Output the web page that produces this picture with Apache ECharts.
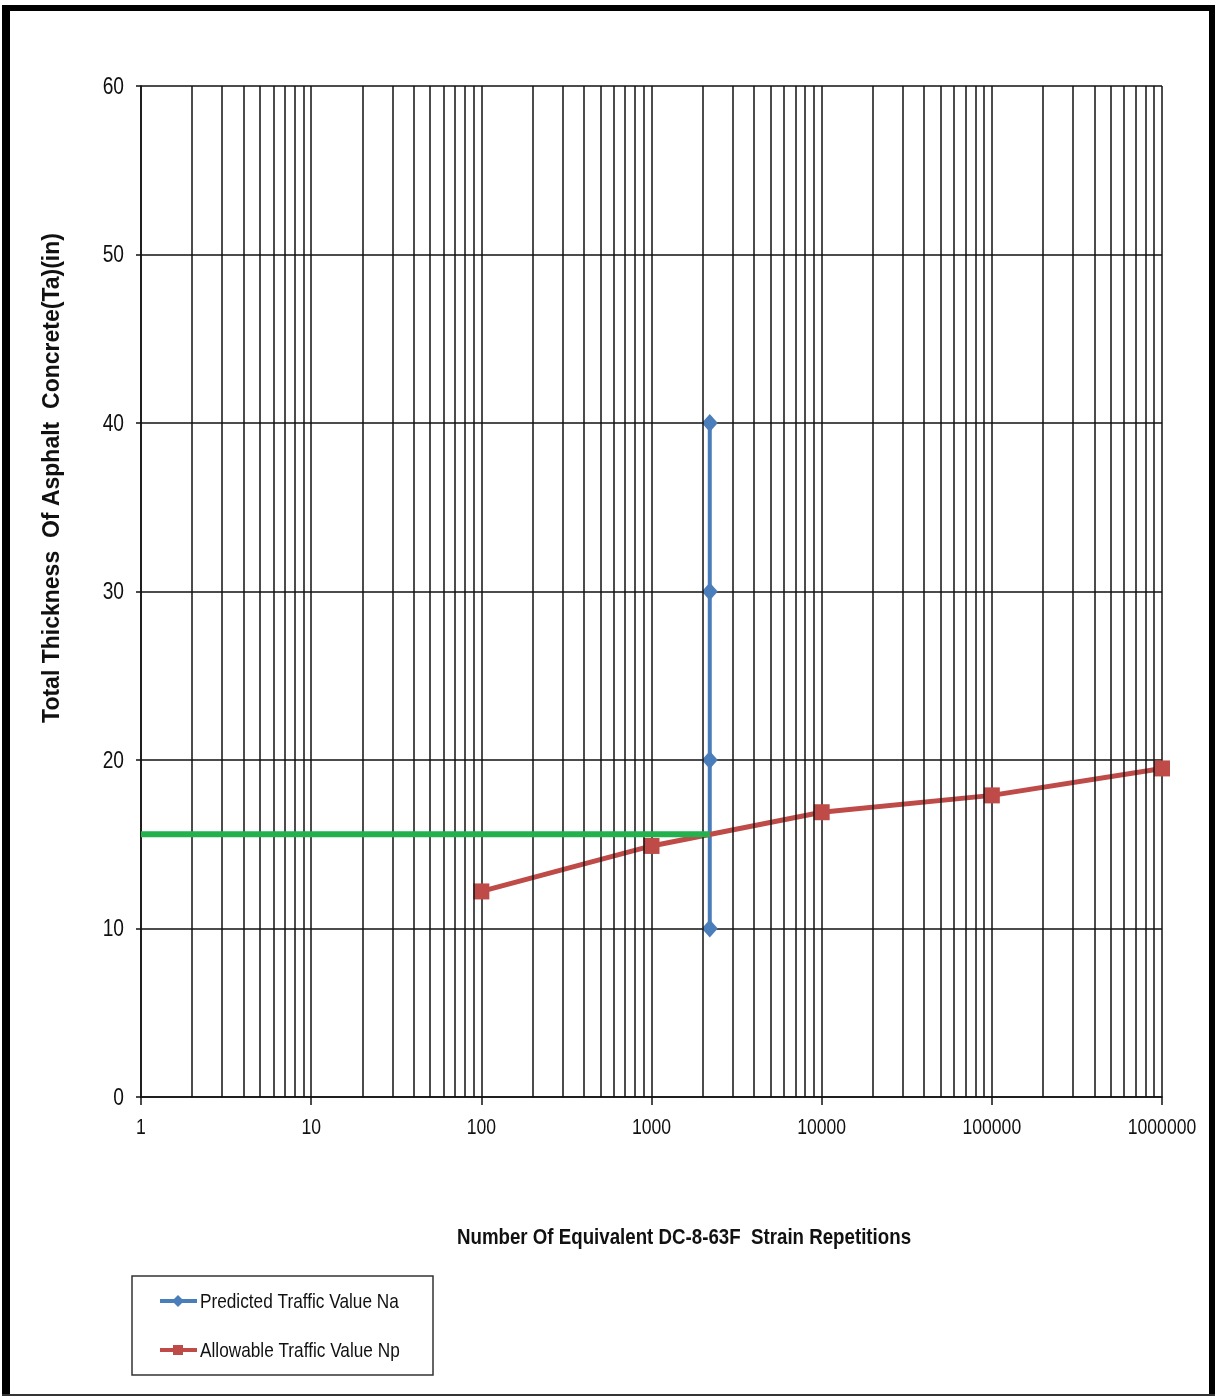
<!DOCTYPE html>
<html>
<head>
<meta charset="utf-8">
<script src="https://cdn.jsdelivr.net/npm/echarts@6/dist/echarts.min.js"></script>
<style>
  html, body { margin: 0; padding: 0; background: #fff; }
  #chart { width: 1215px; height: 1397px; }
</style>
</head>
<body>
<div id="chart"></div>
<script>
// Predicted traffic (Na): vertical line of points at one repetition count
const predictedX = [2200, 2200, 2200, 2200];
const predictedY = [40, 30, 20, 10];

// Allowable traffic (Np) versus thickness
const allowableX = [100, 1000, 10000, 100000, 1000000];
const allowableY = [12.2, 14.9, 16.9, 17.9, 19.5];

// Design thickness read across to the predicted traffic
const designX = [1, 2200];
const designY = [15.6, 15.6];

// Axis ranges and tick labels
const xMin = 1, xMax = 1000000;
const yMin = 0, yMax = 60, yStep = 10;
const xTicks = [1, 10, 100, 1000, 10000, 100000, 1000000];
const xTickLabels = ['1', '10', '100', '1000', '10000', '100000', '1000000'];
const yTicks = [0, 10, 20, 30, 40, 50, 60];
const yTickLabels = ['0', '10', '20', '30', '40', '50', '60'];

const xTitle = 'Number Of Equivalent DC-8-63F  Strain Repetitions';
const yTitle = 'Total Thickness  Of Asphalt  Concrete(Ta)(in)';
const seriesNames = ['Predicted Traffic Value Na', 'Allowable Traffic Value Np'];
const colors = { na: '#4a7ebb', np: '#be4b48', design: '#22b14c', grid: '#111' };

// Log-paper grid: one vertical line at every 2..9 x 10^k inside the range
const logGrid = [];
for (let p = 1; p < xMax; p *= 10) {
  for (let m = 2; m <= 9; m++) logGrid.push(m * p);
}

const pair = (xs, ys) => xs.map((x, i) => [x, ys[i]]);
const sans = "'Liberation Sans', Arial, sans-serif";
// condensed look: regular sans squeezed horizontally
const narrowScale = 0.8;

const chart = echarts.init(document.getElementById('chart'), null, { renderer: 'canvas' });

chart.setOption({
  animation: false,
  backgroundColor: '#fff',
  grid: { left: 141, top: 86, width: 1021, height: 1011, containLabel: false },
  xAxis: {
    type: 'log',
    logBase: 10,
    min: xMin,
    max: xMax,
    axisLine: { show: true, lineStyle: { color: colors.grid, width: 1.5 } },
    axisTick: { show: true, length: 8, lineStyle: { color: colors.grid, width: 1.5 } },
    splitLine: { show: true, lineStyle: { color: colors.grid, width: 1.5 } },
    axisLabel: { show: false }
  },
  yAxis: {
    type: 'value',
    min: yMin,
    max: yMax,
    interval: yStep,
    axisLine: { show: true, lineStyle: { color: colors.grid, width: 1.5 } },
    axisTick: { show: true, length: 5, lineStyle: { color: colors.grid, width: 1.5 } },
    splitLine: { show: true, lineStyle: { color: colors.grid, width: 1.5 } },
    axisLabel: { show: false }
  },
  series: [
    {
      // minor log grid lines
      name: 'grid',
      type: 'line',
      data: [],
      silent: true,
      markLine: {
        silent: true,
        symbol: ['none', 'none'],
        label: { show: false },
        lineStyle: { color: colors.grid, width: 1.5, type: 'solid' },
        data: logGrid.map(v => ({ xAxis: v }))
      }
    },
    {
      // x tick labels, placed through the log scale
      name: 'xLabels',
      type: 'custom',
      silent: true,
      clip: false,
      data: xTicks.map(v => [v, yMin]),
      encode: { x: 0, y: 1 },
      renderItem: (params, api) => {
        const p = api.coord([api.value(0), api.value(1)]);
        return {
          type: 'text', x: p[0], y: p[1] + 31, scaleX: narrowScale,
          style: { text: xTickLabels[params.dataIndex], fontFamily: sans, fontSize: 22,
                   fill: '#111', align: 'center', verticalAlign: 'middle' }
        };
      }
    },
    {
      // y tick labels
      name: 'yLabels',
      type: 'custom',
      silent: true,
      clip: false,
      data: yTicks.map(v => [xMin, v]),
      encode: { x: 0, y: 1 },
      renderItem: (params, api) => {
        const p = api.coord([api.value(0), api.value(1)]);
        return {
          type: 'text', x: p[0] - 17, y: p[1] + 1, scaleX: narrowScale,
          style: { text: yTickLabels[params.dataIndex], fontFamily: sans, fontSize: 24,
                   fill: '#111', align: 'right', verticalAlign: 'middle' }
        };
      }
    },
    {
      name: seriesNames[0],
      type: 'line',
      data: pair(predictedX, predictedY),
      lineStyle: { width: 4, color: colors.na },
      symbol: 'diamond',
      symbolSize: [16, 18],
      itemStyle: { color: colors.na },
      z: 3
    },
    {
      name: seriesNames[1],
      type: 'line',
      data: pair(allowableX, allowableY),
      lineStyle: { width: 5, color: colors.np },
      symbol: 'rect',
      symbolSize: 16,
      itemStyle: { color: colors.np },
      z: 4
    },
    {
      name: 'design',
      type: 'line',
      data: pair(designX, designY),
      lineStyle: { width: 6, color: colors.design },
      symbol: 'none',
      z: 5
    }
  ],
  graphic: [
    // page frame
    { type: 'rect', shape: { x: 2, y: 5, width: 8, height: 1391 }, style: { fill: '#000' } },
    { type: 'rect', shape: { x: 2, y: 5, width: 1213, height: 6 }, style: { fill: '#000' } },
    { type: 'rect', shape: { x: 1209, y: 5, width: 6, height: 1391 }, style: { fill: '#000' } },
    { type: 'rect', shape: { x: 2, y: 1394, width: 1213, height: 2 }, style: { fill: '#333' } },
    // legend box and entries
    { type: 'rect', shape: { x: 132, y: 1276, width: 301, height: 99 },
      style: { fill: 'none', stroke: '#333', lineWidth: 1.5 } },
    { type: 'line', shape: { x1: 160, y1: 1301, x2: 197, y2: 1301 },
      style: { stroke: colors.na, lineWidth: 4 } },
    { type: 'polygon', shape: { points: [[178, 1295], [184, 1301], [178, 1307], [172, 1301]] },
      style: { fill: colors.na } },
    { type: 'text', x: 200, y: 1302, scaleX: 0.82,
      style: { text: seriesNames[0], fontFamily: sans, fontSize: 21, fill: '#111',
               align: 'left', verticalAlign: 'middle' } },
    { type: 'line', shape: { x1: 160, y1: 1350, x2: 197, y2: 1350 },
      style: { stroke: colors.np, lineWidth: 4 } },
    { type: 'rect', shape: { x: 173, y: 1345, width: 10, height: 10 },
      style: { fill: colors.np } },
    { type: 'text', x: 200, y: 1351, scaleX: 0.82,
      style: { text: seriesNames[1], fontFamily: sans, fontSize: 21, fill: '#111',
               align: 'left', verticalAlign: 'middle' } },
    // axis titles
    { type: 'text', x: 684, y: 1238, scaleX: 0.85,
      style: { text: xTitle, fontFamily: sans, fontWeight: 'bold', fontSize: 22,
               fill: '#111', align: 'center', verticalAlign: 'middle' } },
    { type: 'text', x: 53, y: 478, rotation: Math.PI / 2,
      style: { text: yTitle, fontFamily: sans, fontWeight: 'bold',
               fontSize: 23, fill: '#111', align: 'center', verticalAlign: 'middle' } }
  ]
});
</script>
</body>
</html>
